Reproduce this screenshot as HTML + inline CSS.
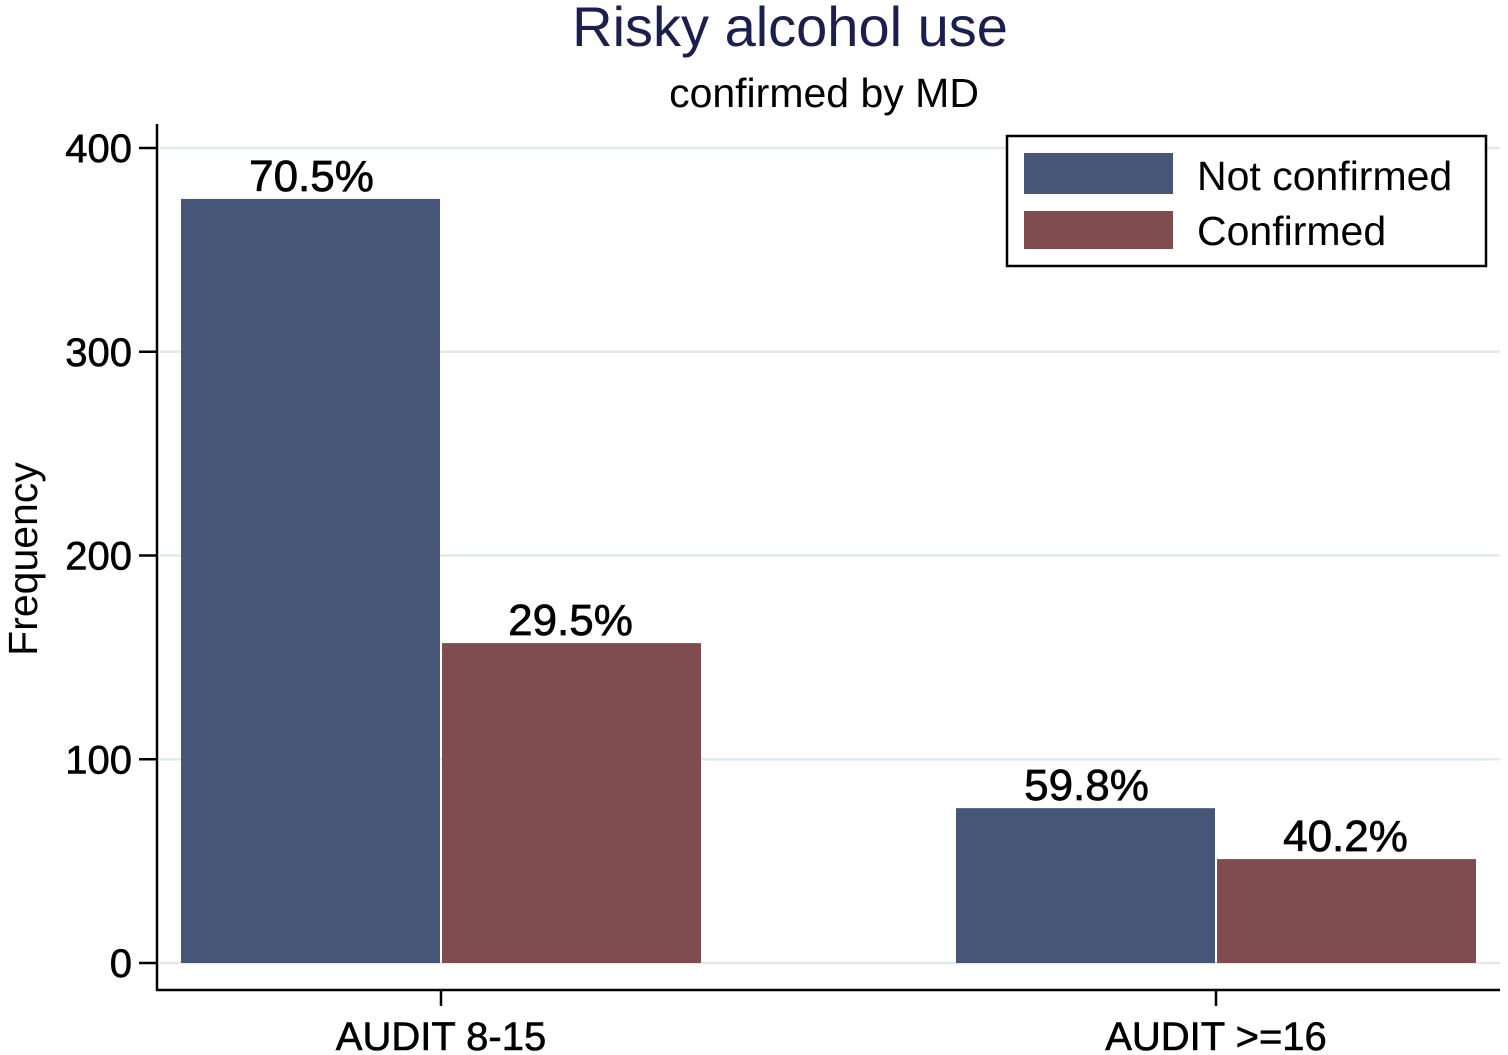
<!DOCTYPE html>
<html><head><meta charset="utf-8"><style>
body{margin:0;background:#fff;}
svg{display:block;font-family:"Liberation Sans",Arial,sans-serif;}
</style></head><body>
<svg id="chart" width="1508" height="1055" viewBox="0 0 1508 1055">
<rect width="1508" height="1055" fill="#fff"/>
<text x="790" y="46" font-size="56" fill="#1a1f4e" text-anchor="middle">Risky alcohol use</text>
<text x="824" y="107" font-size="41" fill="#000" text-anchor="middle">confirmed by MD</text>
<text transform="translate(37,559) rotate(-90)" font-size="41" text-anchor="middle">Frequency</text>
<g id="grid"></g><g id="bars"></g><g id="axes"></g>
<g>
<rect x="1007" y="136" width="479" height="130" fill="#fff" stroke="#000" stroke-width="2.5"/>
<rect x="1024" y="153" width="149" height="41" fill="#475678"/>
<text x="1197" y="190" font-size="41">Not confirmed</text>
<rect x="1024" y="211" width="149" height="38" fill="#7f4d50"/>
<text x="1197" y="245" font-size="41">Confirmed</text>
</g>
</svg>
<script>
const categories=["AUDIT 8-15","AUDIT >=16"];
const notConfirmed=[375,76];
const confirmed=[157,51];
const notConfirmedLabels=["70.5%","59.8%"];
const confirmedLabels=["29.5%","40.2%"];
const yTicks=[0,100,200,300,400];
const NS="http://www.w3.org/2000/svg";
const y=v=>963-v*2.0375;
const catX=[441,1216];
const bw=259;
function mk(p,tag,a,txt){const e=document.createElementNS(NS,tag);for(const k in a)e.setAttribute(k,a[k]);if(txt!=null)e.textContent=txt;document.getElementById(p).appendChild(e);return e;}
yTicks.forEach(t=>{
 const g=mk('grid','line',{x1:160,x2:1500,y1:y(t),y2:y(t),stroke:"#e3e9ec","stroke-width":2.5});
 
 
 const tk=mk('axes','line',{x1:139,x2:157,y1:y(t),y2:y(t),stroke:"#000","stroke-width":2.5});
 
 
 const l=mk('axes','text',{x:132,y:y(t)+14,"font-size":40,"stroke":"#000","stroke-width":0.6,"text-anchor":"end"},String(t));
 
 
});
categories.forEach((c,i)=>{
 const cx=catX[i];
 const b1=mk('bars','rect',{x:cx-bw-1,y:y(notConfirmed[i]),width:bw,height:963-y(notConfirmed[i]),fill:"#475678"});
 
 
 const b2=mk('bars','rect',{x:cx+1,y:y(confirmed[i]),width:bw,height:963-y(confirmed[i]),fill:"#7f4d50"});
 
 
 const t1=mk('bars','text',{x:cx-bw/2,y:y(notConfirmed[i])-8,"font-size":44,"stroke":"#000","stroke-width":0.7,"text-anchor":"middle"},notConfirmedLabels[i]);
 
 
 const t2=mk('bars','text',{x:cx+bw/2,y:y(confirmed[i])-8,"font-size":44,"stroke":"#000","stroke-width":0.7,"text-anchor":"middle"},confirmedLabels[i]);
 
 
 const tk=mk('axes','line',{x1:cx,x2:cx,y1:990,y2:1006,stroke:"#000","stroke-width":2.5});
 
 
 const cl=mk('axes','text',{x:cx,y:1050,"font-size":40,"stroke":"#000","stroke-width":0.6,"text-anchor":"middle"},c);
 
 
});
const ya=mk('axes','line',{x1:157,x2:157,y1:124,y2:991,stroke:"#000","stroke-width":2.5});


const xa=mk('axes','line',{x1:156,x2:1500,y1:990,y2:990,stroke:"#000","stroke-width":2.5});


</script>
</body></html>
